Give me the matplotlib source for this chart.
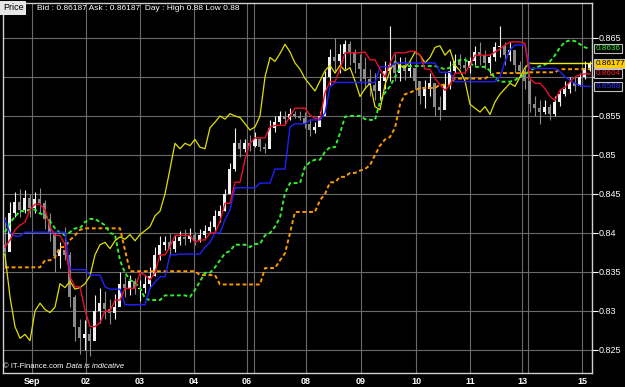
import numpy as np
import matplotlib.pyplot as plt

# candle data, one candle every bar (oldest first)
closes = [
    0.8375, 0.8425, 0.8440, 0.8430, 0.8445, 0.8432, 0.8443, 0.8438, 0.8418, 0.8400,
    0.8370, 0.8378, 0.8372, 0.8318, 0.8280, 0.8265, 0.8270, 0.8262, 0.8300, 0.8310,
    0.8302, 0.8298, 0.8305, 0.8335, 0.8330, 0.8338, 0.8328, 0.8330, 0.8335, 0.8345,
    0.8372, 0.8385, 0.8388, 0.8380, 0.8390, 0.8395, 0.8392, 0.8398, 0.8390, 0.8398,
    0.8403, 0.8408, 0.8422, 0.8428, 0.8450, 0.8482, 0.8515, 0.8508, 0.8515, 0.8512,
    0.8520, 0.8510, 0.8508, 0.8535, 0.8542, 0.8550, 0.8546, 0.8553, 0.8550, 0.8548,
    0.8540, 0.8532, 0.8536, 0.8550, 0.8600, 0.8625, 0.8620, 0.8630, 0.8642, 0.8632,
    0.8618, 0.8610, 0.8598, 0.8590, 0.8582, 0.8595, 0.8608, 0.8615, 0.8605, 0.8615,
    0.8608, 0.8612, 0.8595, 0.8575, 0.8585, 0.8592, 0.8562, 0.8558, 0.8590, 0.8608,
    0.8620, 0.8615, 0.8612, 0.8620, 0.8632, 0.8628, 0.8618, 0.8625, 0.8638, 0.8640,
    0.8628, 0.8635, 0.8615, 0.8608, 0.8595, 0.8565, 0.8560, 0.8555, 0.8562, 0.8552,
    0.8568, 0.8578, 0.8585, 0.8592, 0.8588, 0.8600, 0.8612, 0.8618,
]
highs = [
    0.8420, 0.8440, 0.8452, 0.8457, 0.8455, 0.8450, 0.8452, 0.8458, 0.8442, 0.8425,
    0.8395, 0.8388, 0.8408, 0.8375, 0.8320, 0.8290, 0.8288, 0.8278, 0.8320, 0.8330,
    0.8325, 0.8315, 0.8322, 0.8350, 0.8345, 0.8346, 0.8342, 0.8340, 0.8346, 0.8356,
    0.8382, 0.8396, 0.8396, 0.8400, 0.8396, 0.8402, 0.8405, 0.8406, 0.8401, 0.8405,
    0.8410, 0.8416, 0.8430, 0.8436, 0.8456, 0.8490, 0.8535, 0.8520, 0.8521, 0.8525,
    0.8530, 0.8522, 0.8516, 0.8545, 0.8550, 0.8556, 0.8556, 0.8560, 0.8557, 0.8556,
    0.8555, 0.8545, 0.8542, 0.8556, 0.8608, 0.8636, 0.8650, 0.8642, 0.8648, 0.8646,
    0.8636, 0.8630, 0.8625, 0.8610, 0.8605, 0.8605, 0.8620, 0.8665, 0.8630, 0.8625,
    0.8625, 0.8620, 0.8610, 0.8595, 0.8596, 0.8605, 0.8580, 0.8575, 0.8605, 0.8620,
    0.8630, 0.8630, 0.8625, 0.8626, 0.8640, 0.8645, 0.8635, 0.8630, 0.8645, 0.8666,
    0.8645, 0.8645, 0.8630, 0.8620, 0.8615, 0.8598, 0.8575, 0.8570, 0.8570, 0.8565,
    0.8575, 0.8585, 0.8595, 0.8600, 0.8600, 0.8605, 0.8620, 0.8620,
]
lows = [
    0.8355, 0.8390, 0.8420, 0.8420, 0.8425, 0.8420, 0.8425, 0.8425, 0.8405, 0.8390,
    0.8350, 0.8355, 0.8365, 0.8305, 0.8262, 0.8245, 0.8250, 0.8242, 0.8290, 0.8285,
    0.8290, 0.8283, 0.8290, 0.8312, 0.8318, 0.8320, 0.8322, 0.8313, 0.8323, 0.8330,
    0.8345, 0.8365, 0.8378, 0.8370, 0.8375, 0.8384, 0.8385, 0.8388, 0.8384, 0.8389,
    0.8394, 0.8400, 0.8400, 0.8414, 0.8428, 0.8458, 0.8480, 0.8498, 0.8504, 0.8505,
    0.8510, 0.8505, 0.8503, 0.8518, 0.8530, 0.8540, 0.8540, 0.8545, 0.8548, 0.8545,
    0.8535, 0.8524, 0.8528, 0.8538, 0.8552, 0.8590, 0.8608, 0.8605, 0.8610, 0.8615,
    0.8605, 0.8595, 0.8585, 0.8575, 0.8570, 0.8570, 0.8585, 0.8595, 0.8595, 0.8595,
    0.8596, 0.8600, 0.8585, 0.8565, 0.8560, 0.8575, 0.8550, 0.8545, 0.8560, 0.8585,
    0.8605, 0.8610, 0.8605, 0.8605, 0.8615, 0.8615, 0.8610, 0.8605, 0.8620, 0.8625,
    0.8615, 0.8620, 0.8605, 0.8600, 0.8585, 0.8555, 0.8550, 0.8540, 0.8552, 0.8545,
    0.8550, 0.8563, 0.8575, 0.8580, 0.8582, 0.8588, 0.8598, 0.8608,
]
first_open = 0.8385

# ichimoku lines, one value per candle
tenkan = [
    0.8382, 0.8391, 0.8404, 0.8410, 0.8414, 0.8430, 0.8437, 0.8437, 0.8430, 0.8408,
    0.8397, 0.8397, 0.8385, 0.8344, 0.8331, 0.8331, 0.8301, 0.8280, 0.8280, 0.8285,
    0.8300, 0.8300, 0.8314, 0.8314, 0.8329, 0.8329, 0.8329, 0.8349, 0.8346, 0.8340,
    0.8349, 0.8372, 0.8372, 0.8382, 0.8397, 0.8397, 0.8397, 0.8397, 0.8388, 0.8391,
    0.8391, 0.8400, 0.8400, 0.8415, 0.8438, 0.8438, 0.8465, 0.8465, 0.8494, 0.8515,
    0.8522, 0.8522, 0.8522, 0.8536, 0.8538, 0.8538, 0.8538, 0.8550, 0.8560, 0.8560,
    0.8560, 0.8551, 0.8547, 0.8547, 0.8580, 0.8594, 0.8594, 0.8610, 0.8631, 0.8631,
    0.8631, 0.8631, 0.8632, 0.8622, 0.8622, 0.8610, 0.8600, 0.8618, 0.8631, 0.8631,
    0.8631, 0.8633, 0.8633, 0.8628, 0.8610, 0.8610, 0.8598, 0.8590, 0.8583, 0.8590,
    0.8605, 0.8605, 0.8605, 0.8615, 0.8628, 0.8628, 0.8628, 0.8628, 0.8632, 0.8636,
    0.8641, 0.8645, 0.8645, 0.8645, 0.8643, 0.8598, 0.8592, 0.8592, 0.8585, 0.8575,
    0.8570, 0.8583, 0.8587, 0.8594, 0.8600, 0.8603, 0.8604, 0.8604,
]
kijun = [
    0.8417, 0.8400, 0.8396, 0.8396, 0.8401, 0.8401, 0.8401, 0.8401, 0.8401, 0.8401,
    0.8401, 0.8401, 0.8401, 0.8353, 0.8353, 0.8353, 0.8353, 0.8346, 0.8346, 0.8346,
    0.8331, 0.8328, 0.8328, 0.8328, 0.8308, 0.8308, 0.8308, 0.8308, 0.8308, 0.8329,
    0.8337, 0.8344, 0.8344, 0.8372, 0.8372, 0.8373, 0.8373, 0.8373, 0.8373, 0.8373,
    0.8382, 0.8388, 0.8400, 0.8400, 0.8417, 0.8430, 0.8458, 0.8458, 0.8458, 0.8458,
    0.8458, 0.8464, 0.8464, 0.8464, 0.8482, 0.8482, 0.8482, 0.8536, 0.8540, 0.8540,
    0.8540, 0.8545, 0.8545, 0.8545, 0.8554, 0.8587, 0.8593, 0.8593, 0.8593, 0.8593,
    0.8593, 0.8593, 0.8593, 0.8593, 0.8593, 0.8613, 0.8613, 0.8613, 0.8618, 0.8618,
    0.8618, 0.8618, 0.8618, 0.8618, 0.8618, 0.8618, 0.8618, 0.8606, 0.8606, 0.8606,
    0.8594, 0.8594, 0.8594, 0.8594, 0.8594, 0.8594, 0.8594, 0.8594, 0.8594, 0.8600,
    0.8620, 0.8635, 0.8641, 0.8641, 0.8641, 0.8611, 0.8611, 0.8611, 0.8611, 0.8611,
    0.8611, 0.8607, 0.8600, 0.8596, 0.8592, 0.8589, 0.8588, 0.8588,
]
senkou_a = [
    0.8401, 0.8413, 0.8421, 0.8428, 0.8428, 0.8430, 0.8430, 0.8425, 0.8423, 0.8415,
    0.8406, 0.8400, 0.8397, 0.8401, 0.8406, 0.8406, 0.8414, 0.8418, 0.8418, 0.8414,
    0.8410, 0.8400, 0.8398, 0.8365, 0.8349, 0.8340, 0.8336, 0.8330, 0.8316, 0.8314,
    0.8314, 0.8314, 0.8320, 0.8320, 0.8320, 0.8320, 0.8320, 0.8318, 0.8327, 0.8338,
    0.8349, 0.8349, 0.8356, 0.8365, 0.8374, 0.8377, 0.8385, 0.8385, 0.8385, 0.8382,
    0.8386, 0.8386, 0.8397, 0.8400, 0.8408, 0.8420, 0.8451, 0.8464, 0.8464, 0.8464,
    0.8485, 0.8491, 0.8494, 0.8494, 0.8504, 0.8510, 0.8510, 0.8528, 0.8549, 0.8550,
    0.8550, 0.8550, 0.8546, 0.8545, 0.8545, 0.8568, 0.8580, 0.8588, 0.8600, 0.8612,
    0.8614, 0.8614, 0.8614, 0.8614, 0.8614, 0.8614, 0.8614, 0.8612, 0.8610, 0.8612,
    0.8618, 0.8622, 0.8622, 0.8618, 0.8613, 0.8613, 0.8613, 0.8608, 0.8598, 0.8594,
    0.8594, 0.8594, 0.8596, 0.8600, 0.8603, 0.8608, 0.8612, 0.8614, 0.8616, 0.8620,
    0.8628, 0.8638, 0.8645, 0.8647, 0.8646, 0.8642, 0.8638, 0.8636,
]
senkou_b = [
    0.8356, 0.8356, 0.8356, 0.8356, 0.8356, 0.8356, 0.8356, 0.8356, 0.8365, 0.8365,
    0.8369, 0.8382, 0.8382, 0.8391, 0.8397, 0.8404, 0.8406, 0.8406, 0.8406, 0.8406,
    0.8406, 0.8406, 0.8406, 0.8406, 0.8378, 0.8351, 0.8351, 0.8351, 0.8351, 0.8351,
    0.8351, 0.8351, 0.8351, 0.8351, 0.8351, 0.8351, 0.8351, 0.8351, 0.8351, 0.8346,
    0.8346, 0.8346, 0.8346, 0.8334, 0.8334, 0.8334, 0.8334, 0.8334, 0.8334, 0.8334,
    0.8334, 0.8334, 0.8355, 0.8355, 0.8355, 0.8365, 0.8374, 0.8400, 0.8427, 0.8427,
    0.8427, 0.8427, 0.8427, 0.8442, 0.8450, 0.8465, 0.8465, 0.8472, 0.8472, 0.8477,
    0.8477, 0.8480, 0.8482, 0.8487, 0.8500, 0.8512, 0.8520, 0.8523, 0.8535, 0.8565,
    0.8578, 0.8580, 0.8583, 0.8586, 0.8586, 0.8586, 0.8586, 0.8590, 0.8590, 0.8590,
    0.8598, 0.8598, 0.8598, 0.8598, 0.8598, 0.8598, 0.8598, 0.8602, 0.8605, 0.8605,
    0.8605, 0.8605, 0.8605, 0.8605, 0.8605, 0.8606, 0.8606, 0.8606, 0.8606, 0.8606,
    0.8606, 0.8610, 0.8610, 0.8610, 0.8610, 0.8610, 0.8610, 0.8610,
]
chikou_shift = 12
last_price = 0.86177

# axis labels
date_labels = ['Sep', '02', '03', '04', '06', '08', '09', '10', '11', '13', '15']
date_pos = [5.4, 16.2, 27.0, 37.8, 48.4, 60.2, 71.2, 82.2, 93.0, 103.4, 115.4]
week_pos = [49.8, 104.6]
price_ticks = [0.825, 0.83, 0.835, 0.84, 0.845, 0.85, 0.855, 0.86, 0.865]
price_labels = ['0.825', '0.83', '0.835', '0.84', '0.845', '0.85', '0.855', '', '0.865']

# right-hand value boxes: (text, y, text colour, box colour)
value_tags = [
    ('0.8636', 0.8636, '#33ee33', 'black'),
    ('0.86177', 0.86177, 'black', '#ffcc00'),
    ('0.8604', 0.8604, '#ff2020', 'black'),
    ('0.8588', 0.8588, '#3030ff', 'black'),
]


def main():
    plt.rcParams['font.family'] = ['Liberation Sans', 'DejaVu Sans']

    fig = plt.figure(figsize=(6.25, 3.87), dpi=100, facecolor='black')
    ax = fig.add_axes([3 / 625, 14 / 387, 589 / 625, 370 / 387])
    ax.set_facecolor('black')

    xs = np.arange(len(closes))
    opens = [first_open] + closes[:-1]

    # 网格
    ax.set_xticks(date_pos)
    ax.set_xticklabels(date_labels, color='white', fontsize=6.5, fontweight='bold')
    ax.set_yticks(price_ticks)
    ax.set_yticklabels(price_labels, color='white', fontsize=6.5)
    ax.yaxis.tick_right()
    ax.tick_params(axis='y', colors='white', length=4, width=0.8, pad=1)
    ax.tick_params(axis='x', colors='white', length=0, pad=3)
    ax.grid(True, color='#6a6a6a', linewidth=0.8, zorder=0)
    for w in week_pos:
        ax.axvline(w, color='#6a6a6a', linewidth=0.8, zorder=0)
    for s in ax.spines.values():
        s.set_color('#d0d0d0')
        s.set_linewidth(1)

    # 蜡烛图
    up_col, down_col = '#f2f2f2', '#8a8a8a'
    cols = [up_col if c >= o else down_col for o, c in zip(opens, closes)]
    ax.vlines(xs, lows, highs, colors=cols, linewidth=0.8, zorder=2)
    bottoms = [min(o, c) for o, c in zip(opens, closes)]
    heights = [max(abs(c - o), 0.00008) for o, c in zip(opens, closes)]
    ax.bar(xs, heights, bottom=bottoms, width=0.6, color=cols, zorder=2)

    # 一目均衡表
    dash = (0, (2, 1.4))
    ax.plot(xs, senkou_b, color='#ff9900', linewidth=1.4, linestyle=dash, zorder=3)
    ax.plot(xs, senkou_a, color='#33ee33', linewidth=1.4, linestyle=dash, zorder=3)
    ax.plot(xs - chikou_shift, closes, color='#e0e000', linewidth=0.9, zorder=3)
    ax.plot(xs, kijun, color='#2020ff', linewidth=1, zorder=4)
    ax.plot(xs, tenkan, color='#e8102a', linewidth=1, zorder=4)
    ax.hlines(last_price, xs[-1] - chikou_shift, xs[-1] + 0.4,
              color='#f0f000', linewidth=1, zorder=4)

    ax.set_xlim(-0.4, 117.4)
    ax.set_ylim(0.822051, 0.869487)

    # 右侧数值标签
    trans = ax.get_yaxis_transform()
    for txt, y, tc, bc in value_tags:
        ax.text(1.006, y, txt, transform=trans, color=tc, fontsize=5.9,
                va='center', ha='left', clip_on=False, zorder=6,
                bbox=dict(boxstyle='square,pad=0.13', facecolor=bc,
                          edgecolor='#c0c0c0', linewidth=0.8))

    # 顶部与底部文字
    fig.text(3 / 625, 1 - 8 / 387, 'Price', color='black', fontsize=6.5,
             va='center', ha='left',
             bbox=dict(boxstyle='square,pad=0.3', facecolor='#e6e6e6',
                       edgecolor='none'))
    fig.text(37 / 625, 1 - 8 / 387,
             'Bid : 0.86187 Ask : 0.86187  Day : High 0.88 Low 0.88',
             color='white', fontsize=6, va='center', ha='left')
    fig.text(3 / 625, 1 - 367 / 387, '\u00a9 IT-Finance.com', color='white',
             fontsize=5.5, va='center', ha='left')
    fig.text(66 / 625, 1 - 367 / 387, 'Data is indicative', color='white',
             fontsize=5.5, style='italic', va='center', ha='left')

    fig.savefig('out.png', dpi=100, facecolor='black')


if __name__ == '__main__':
    main()
